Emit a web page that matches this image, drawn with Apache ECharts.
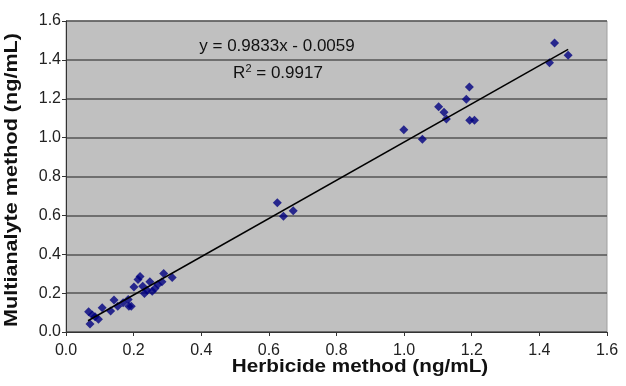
<!DOCTYPE html>
<html>
<head>
<meta charset="utf-8">
<script src="https://cdn.jsdelivr.net/npm/echarts@6/dist/echarts.min.js"></script>
<style>
    html, body { margin: 0; padding: 0; background: #fff; }
    #chart { width: 626px; height: 386px; }
</style>
</head>
<body>
<div id="chart"></div>
<script>
// herbicide method (x) vs multianalyte method (y), ng/mL
var herbicideX = [0.071, 0.067, 0.078, 0.086, 0.096, 0.107, 0.132, 0.142, 0.153, 0.169,
    0.184, 0.186, 0.193, 0.201, 0.213, 0.219, 0.227, 0.232, 0.240, 0.248,
    0.255, 0.263, 0.272, 0.284, 0.289, 0.314, 0.625, 0.643, 0.672, 0.999,
    1.054, 1.102, 1.118, 1.125, 1.184, 1.193, 1.194, 1.208, 1.430, 1.445, 1.485];
var multiY = [0.041, 0.104, 0.087, 0.079, 0.065, 0.125, 0.108, 0.164, 0.133, 0.150,
    0.167, 0.133, 0.133, 0.232, 0.270, 0.285, 0.236, 0.198, 0.215, 0.258,
    0.210, 0.224, 0.244, 0.258, 0.301, 0.280, 0.665, 0.595, 0.624, 1.040,
    0.991, 1.159, 1.130, 1.096, 1.198, 1.260, 1.090, 1.090, 1.385, 1.487, 1.424];

// linear trendline shown on the chart
var slope = 0.9833;
var intercept = -0.0059;
var trendX = [0.065, 1.485];
var tickLabels = ['0.0', '0.2', '0.4', '0.6', '0.8', '1.0', '1.2', '1.4', '1.6'];

var points = [];
for (var i = 0; i < herbicideX.length; i++) {
    points.push([herbicideX[i], multiY[i]]);
}
var trend = trendX.map(function (x) { return [x, slope * x + intercept]; });

var chart = echarts.init(document.getElementById('chart'));

var font = 'Liberation Sans';
var axisCommon = {
    min: 0,
    max: 1.6,
    interval: 0.2,
    axisLine: { show: true, onZero: false, lineStyle: { color: '#333', width: 1 } },
    axisTick: { show: true, length: 4, lineStyle: { color: '#333' } },
    axisLabel: {
        color: '#222',
        fontSize: 16,
        fontFamily: font,
        formatter: function (v) { return tickLabels[Math.round(v / 0.2)]; }
    }
};

var titleStyle = { fontSize: 18, fontWeight: 'bold', fontFamily: font, fill: '#111', textAlign: 'center', textVerticalAlign: 'middle' };

chart.setOption({
    animation: false,
    grid: {
        left: 66, right: 19, top: 21, bottom: 54,
        outerBoundsMode: 'none',
        containLabel: false,
        show: true,
        backgroundColor: '#c0c0c0',
        borderColor: '#a0a0a0',
        borderWidth: 1
    },
    xAxis: Object.assign({}, axisCommon, {
        type: 'value',
        splitLine: { show: false },
        axisLabel: Object.assign({}, axisCommon.axisLabel, { margin: 11 })
    }),
    yAxis: Object.assign({}, axisCommon, {
        type: 'value',
        splitLine: { show: true, lineStyle: { color: '#555', width: 1.5 } },
        axisLabel: Object.assign({}, axisCommon.axisLabel, { margin: 5 })
    }),
    graphic: [{
        // axis titles (the source text is a bit stretched, hence the scale)
        type: 'text',
        x: 360, y: 367, scaleX: 1.15,
        style: Object.assign({ text: 'Herbicide method (ng/mL)' }, titleStyle)
    }, {
        type: 'text',
        x: 12, y: 180, rotation: Math.PI / 2, scaleX: 1.2,
        style: Object.assign({ text: 'Multianalyte method (ng/mL)' }, titleStyle)
    }, {
        type: 'text',
        x: 277, y: 46,
        style: {
            text: 'y = 0.9833x - 0.0059', fontSize: 17, fontFamily: font, fill: '#111',
            textAlign: 'center', textVerticalAlign: 'middle'
        }
    }, {
        type: 'text',
        x: 278, y: 73,
        style: {
            text: 'R{sup|2} = 0.9917', fontSize: 17, fontFamily: font, fill: '#111',
            textAlign: 'center', textVerticalAlign: 'middle',
            rich: { sup: { fontSize: 11, fontFamily: font, fill: '#111', verticalAlign: 'top', padding: [0, 0, 8, 0] } }
        }
    }],
    series: [{
        type: 'scatter',
        data: points,
        symbol: 'diamond',
        symbolSize: 9,
        itemStyle: { color: '#00007f' },
        z: 3
    }, {
        type: 'line',
        data: trend,
        symbol: 'none',
        lineStyle: { color: '#000', width: 1.5 },
        z: 4
    }]
});
</script>
</body>
</html>
